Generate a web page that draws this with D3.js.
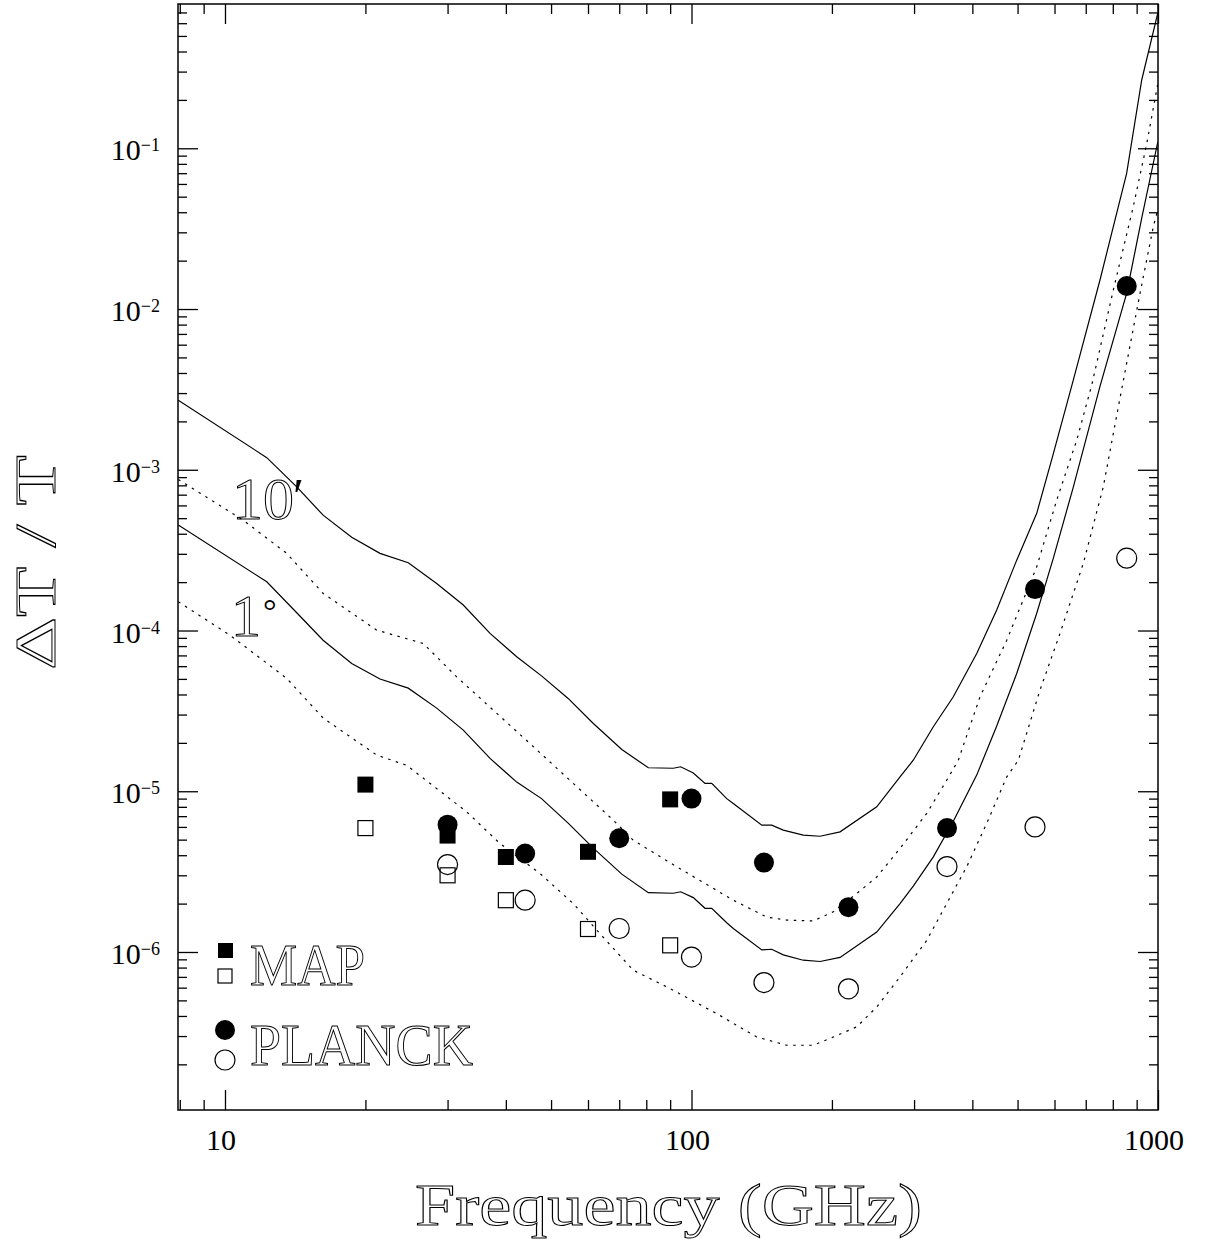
<!DOCTYPE html>
<html>
<head>
<meta charset="utf-8">
<script src="https://cdn.jsdelivr.net/npm/d3@7"></script>
<style>
  body { margin: 0; background: #fff; }
  text { font-family: "Liberation Serif", "DejaVu Serif", serif; }
</style>
</head>
<body>
<svg id="chart" width="1209" height="1241"></svg>
<script>
// ---- values ----
// solid curves (upper = 10', lower = 1 deg)
var solidFreq = [7.94, 12.29, 14.25, 16.23, 18.69, 21.49, 24.71, 28.43, 32.42, 37.0, 42.2, 47.7, 54.4, 61.6, 70.9, 80.8,
                 91.4, 94.8, 100.9, 106.9, 110.5, 119.0, 122.9, 141.5, 148.6, 157.3, 173.6, 188.6, 208.2, 249.5, 279.9,
                 298.8, 329.9, 364.1, 408.7, 451.1, 497.9, 549.6, 596.6, 658.3, 751, 856.6, 922.8, 998.6];
var solid10 = [2.71e-3, 1.19e-3, 7.83e-4, 5.22e-4, 3.80e-4, 3.02e-4, 2.64e-4, 1.96e-4, 1.44e-4, 9.6e-5, 6.86e-5, 5.22e-5,
               3.78e-5, 2.64e-5, 1.82e-5, 1.40e-5, 1.39e-5, 1.42e-5, 1.30e-5, 1.12e-5, 1.12e-5, 9.0e-6, 8.39e-6, 6.15e-6,
               6.15e-6, 5.73e-6, 5.33e-6, 5.25e-6, 5.59e-6, 8.0e-6, 1.23e-5, 1.56e-5, 2.52e-5, 3.87e-5, 7.2e-5, 1.34e-4,
               2.74e-4, 5.36e-4, 1.26e-3, 3.61e-3, 1.515e-2, 6.99e-2, 0.266, 0.69];
var solid1 = [4.53e-4, 2.01e-4, 1.29e-4, 8.7e-5, 6.24e-5, 4.99e-5, 4.38e-5, 3.29e-5, 2.40e-5, 1.60e-5, 1.14e-5, 9.0e-6,
              6.33e-6, 4.43e-6, 3.05e-6, 2.34e-6, 2.32e-6, 2.37e-6, 2.18e-6, 1.87e-6, 1.87e-6, 1.52e-6, 1.40e-6, 1.03e-6,
              1.04e-6, 9.6e-7, 8.89e-7, 8.73e-7, 9.25e-7, 1.33e-6, 2.00e-6, 2.57e-6, 3.91e-6, 6.5e-6, 1.26e-5, 2.55e-5,
              5.4e-5, 1.28e-4, 2.82e-4, 7.8e-4, 3.3e-3, 1.25e-2, 3.68e-2, 0.109];

// dotted curves
var dot10Freq = [7.94, 10.94, 13.56, 16.24, 21.14, 26.61, 31.38, 45.06, 68.0, 75.0, 92.97, 122.9, 144.9, 160.0, 182.4,
                 201.4, 226.0, 249.5, 279.9, 319.3, 352.4, 373.2, 415.4, 474, 549.6, 606.6, 669.6, 721.1, 802, 885.1,
                 946, 998.6];
var dot10 = [8.7e-4, 4.86e-4, 3.02e-4, 1.70e-4, 1.006e-4, 8.3e-5, 5.15e-5, 1.98e-5, 6.6e-6, 4.96e-6, 3.39e-6, 2.10e-6,
             1.65e-6, 1.58e-6, 1.56e-6, 1.78e-6, 2.31e-6, 2.93e-6, 4.41e-6, 7.28e-6, 1.17e-5, 1.56e-5, 3.87e-5, 8.7e-5,
             2.49e-4, 6.48e-4, 1.53e-3, 3.37e-3, 1.31e-2, 4.33e-2, 0.107, 0.25];
var dot1Freq = [7.94, 10.25, 13.56, 16.24, 21.14, 24.52, 32.96, 38.86, 47.33, 55.8, 63.66, 75.0, 88.5, 113.2, 138.0,
                160.0, 182.4, 201.4, 226, 249.5, 279.9, 319.3, 352.4, 389, 429.4, 474, 502, 558.5, 616.6, 691.8,
                763.3, 828.8, 915, 977.1, 1000];
var dot1 = [1.51e-4, 9.35e-5, 5.04e-5, 2.85e-5, 1.68e-5, 1.45e-5, 7.45e-6, 4.73e-6, 3.08e-6, 2.00e-6, 1.30e-6, 7.7e-7,
            6.07e-7, 4.14e-7, 2.96e-7, 2.63e-7, 2.63e-7, 2.96e-7, 3.42e-7, 4.55e-7, 7.0e-7, 1.18e-6, 2.0e-6, 3.39e-6,
            6.31e-6, 1.23e-5, 1.56e-5, 4.26e-5, 9.6e-5, 2.62e-4, 7.83e-4, 2.78e-3, 1.25e-2, 3.25e-2, 4.2e-2];

// MAP and PLANCK channels
var mapFreq = [20, 30, 40, 60, 90];
var mapFilled = [1.1e-5, 5.3e-6, 3.9e-6, 4.2e-6, 8.9e-6];
var mapOpen = [5.9e-6, 3.0e-6, 2.1e-6, 1.39e-6, 1.1e-6];
var planckFreq = [30, 44, 70, 100, 143, 217, 353, 545, 857];
var planckFilled = [6.2e-6, 4.1e-6, 5.1e-6, 9.0e-6, 3.6e-6, 1.9e-6, 5.9e-6, 1.81e-4, 1.39e-2];
var planckOpen = [3.5e-6, 2.1e-6, 1.4e-6, 9.3e-7, 6.45e-7, 5.9e-7, 3.4e-6, 6.0e-6, 2.82e-4];

var xTickValues = [10, 100, 1000];
var xTickLabels = ["10", "100", "1000"];
var yTickExps = [-1, -2, -3, -4, -5, -6];

// ---- layout ----
var plotL = 178, plotR = 1158, plotT = 4, plotB = 1110;

var x = d3.scaleLog().domain([7.93, 1000]).range([plotL, plotR]);
var y = d3.scaleLog().domain([1.04e-7, 0.79]).range([plotB, plotT]);

var svg = d3.select("#chart");
svg.append("rect").attr("width", 1209).attr("height", 1241).attr("fill", "#fff");

svg.append("clipPath").attr("id", "plotclip")
  .append("rect").attr("x", plotL).attr("y", plotT).attr("width", plotR - plotL).attr("height", plotB - plotT);

// minor tick values
var xMinor = [];
[1, 10, 100].forEach(function(d) {
  for (var m = 2; m <= 9; m++) if (d * m >= 7.93 && d * m <= 1000) xMinor.push(d * m);
});
var yMajor = yTickExps.map(function(e) { return Math.pow(10, e); });
var yMinor = [];
for (var e = -7; e <= -1; e++) {
  for (var m = 2; m <= 9; m++) {
    var v = m * Math.pow(10, e);
    if (v >= 1.04e-7 && v <= 0.79) yMinor.push(v);
  }
}

function styleAxis(g) {
  g.select(".domain").remove();
  g.selectAll("line").attr("stroke", "#000").attr("stroke-width", 1.3);
  g.selectAll("text").remove();
}

// ticks on all four sides, pointing inward
svg.append("g").attr("transform", "translate(0," + plotB + ")")
  .call(d3.axisBottom(x).tickValues(xTickValues).tickSize(-20)).call(styleAxis);
svg.append("g").attr("transform", "translate(0," + plotB + ")")
  .call(d3.axisBottom(x).tickValues(xMinor).tickSize(-10)).call(styleAxis);
svg.append("g").attr("transform", "translate(0," + plotT + ")")
  .call(d3.axisTop(x).tickValues(xTickValues).tickSize(-20)).call(styleAxis);
svg.append("g").attr("transform", "translate(0," + plotT + ")")
  .call(d3.axisTop(x).tickValues(xMinor).tickSize(-10)).call(styleAxis);

svg.append("g").attr("transform", "translate(" + plotL + ",0)")
  .call(d3.axisLeft(y).tickValues(yMajor).tickSize(-20)).call(styleAxis);
svg.append("g").attr("transform", "translate(" + plotL + ",0)")
  .call(d3.axisLeft(y).tickValues(yMinor).tickSize(-9)).call(styleAxis);
svg.append("g").attr("transform", "translate(" + plotR + ",0)")
  .call(d3.axisRight(y).tickValues(yMajor).tickSize(-20)).call(styleAxis);
svg.append("g").attr("transform", "translate(" + plotR + ",0)")
  .call(d3.axisRight(y).tickValues(yMinor).tickSize(-9)).call(styleAxis);

// frame
svg.append("rect").attr("x", plotL).attr("y", plotT)
  .attr("width", plotR - plotL).attr("height", plotB - plotT)
  .attr("fill", "none").attr("stroke", "#000").attr("stroke-width", 1.5);

// tick labels
svg.selectAll(".xlab").data(xTickValues).enter().append("text")
  .attr("x", function(d) { return x(d) - 4; })
  .attr("y", 1150)
  .attr("text-anchor", "middle")
  .attr("font-size", 30)
  .text(function(d, i) { return xTickLabels[i]; });

var ylab = svg.selectAll(".ylab").data(yTickExps).enter().append("text")
  .attr("x", 160)
  .attr("y", function(d) { return y(Math.pow(10, d)) + 12; })
  .attr("text-anchor", "end")
  .attr("font-size", 30);
ylab.append("tspan").text("10");
ylab.append("tspan").attr("font-size", 18).attr("dy", -9)
  .text(function(d) { return "\u2212" + Math.abs(d); });

// curves
var line = d3.line()
  .x(function(d) { return x(d[0]); })
  .y(function(d) { return y(d[1]); });
function pairs(f, v) { return f.map(function(d, i) { return [d, v[i]]; }); }

var curves = svg.append("g").attr("clip-path", "url(#plotclip)")
  .attr("fill", "none").attr("stroke", "#000").attr("stroke-width", 1.2);
curves.append("path").attr("d", line(pairs(solidFreq, solid10)));
curves.append("path").attr("d", line(pairs(solidFreq, solid1)));
curves.append("path").attr("d", line(pairs(dot10Freq, dot10))).attr("stroke-dasharray", "2.5,5.5");
curves.append("path").attr("d", line(pairs(dot1Freq, dot1))).attr("stroke-dasharray", "2.5,5.5");

// markers
var sq = 15, r = 10;
svg.selectAll(".mapOpen").data(mapFreq).enter().append("rect")
  .attr("x", function(d) { return x(d) - sq / 2; })
  .attr("y", function(d, i) { return y(mapOpen[i]) - sq / 2; })
  .attr("width", sq).attr("height", sq)
  .attr("fill", "none").attr("stroke", "#000").attr("stroke-width", 1.2);
svg.selectAll(".mapFilled").data(mapFreq).enter().append("rect")
  .attr("x", function(d) { return x(d) - 8; })
  .attr("y", function(d, i) { return y(mapFilled[i]) - 8; })
  .attr("width", 16).attr("height", 16)
  .attr("fill", "#000");
svg.selectAll(".plOpen").data(planckFreq).enter().append("circle")
  .attr("cx", function(d) { return x(d); })
  .attr("cy", function(d, i) { return y(planckOpen[i]); })
  .attr("r", r)
  .attr("fill", "none").attr("stroke", "#000").attr("stroke-width", 1.2);
svg.selectAll(".plFilled").data(planckFreq).enter().append("circle")
  .attr("cx", function(d) { return x(d); })
  .attr("cy", function(d, i) { return y(planckFilled[i]); })
  .attr("r", r)
  .attr("fill", "#000");

// outlined text helper
function outline(sel) {
  return sel.attr("fill", "none").attr("stroke", "#000").attr("stroke-width", 1);
}

// curve labels
outline(svg.append("text").attr("x", 232).attr("y", 519).attr("font-size", 60)
  .attr("textLength", 62).attr("lengthAdjust", "spacingAndGlyphs").text("10"));
svg.append("text").attr("x", 293).attr("y", 513).attr("font-size", 50).text("\u2032");
outline(svg.append("text").attr("x", 231).attr("y", 636).attr("font-size", 60).text("1"));
svg.append("text").attr("x", 263).attr("y", 622).attr("font-size", 34)
  .attr("fill", "#000").text("\u00b0");

// legend
svg.append("rect").attr("x", 218).attr("y", 943).attr("width", 15).attr("height", 15).attr("fill", "#000");
svg.append("rect").attr("x", 218).attr("y", 969).attr("width", 14).attr("height", 14)
  .attr("fill", "none").attr("stroke", "#000").attr("stroke-width", 1.2);
svg.append("circle").attr("cx", 225).attr("cy", 1030).attr("r", 10).attr("fill", "#000");
svg.append("circle").attr("cx", 225).attr("cy", 1060).attr("r", 10)
  .attr("fill", "none").attr("stroke", "#000").attr("stroke-width", 1.2);
outline(svg.append("text").attr("x", 250).attr("y", 985).attr("font-size", 60)
  .attr("textLength", 115).attr("lengthAdjust", "spacingAndGlyphs").text("MAP"));
outline(svg.append("text").attr("x", 250).attr("y", 1065).attr("font-size", 60)
  .attr("textLength", 223).attr("lengthAdjust", "spacingAndGlyphs").text("PLANCK"));

// axis titles
outline(svg.append("text").attr("x", 415).attr("y", 1225).attr("font-size", 60)
  .attr("textLength", 507).attr("lengthAdjust", "spacingAndGlyphs").text("Frequency (GHz)"));
outline(svg.append("text")
  .attr("transform", "translate(55,670) rotate(-90)")
  .attr("font-size", 57)
  .attr("textLength", 215).attr("lengthAdjust", "spacingAndGlyphs").text("\u0394T / T"));
</script>
</body>
</html>
